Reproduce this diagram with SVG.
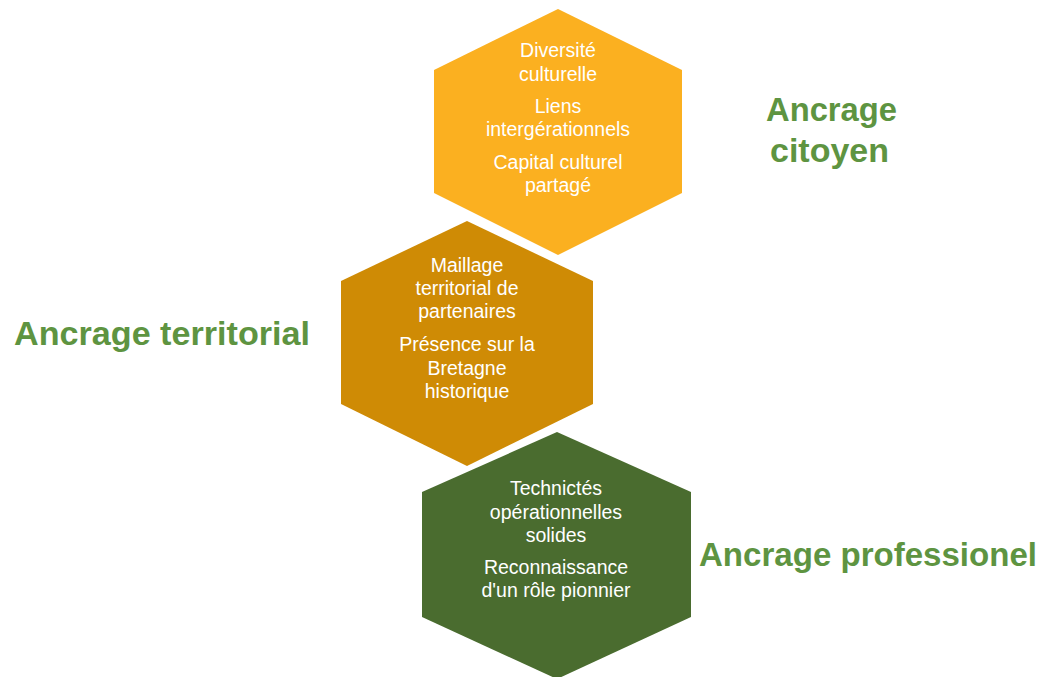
<svg xmlns="http://www.w3.org/2000/svg" width="1046" height="677" viewBox="0 0 1046 677">
<style>
.t{font-family:"Liberation Sans",Arial,sans-serif;font-size:19.5px;fill:#ffffff;text-anchor:middle}
.h{font-family:"Liberation Sans",Arial,sans-serif;font-size:33px;font-weight:bold;fill:#5E9441}
</style>
<rect width="1046" height="677" fill="#ffffff"/>
<g id="hex-citoyen">
<polygon points="558,9 682,70 682,193 558,255 434,193 434,70" fill="#FBB020"/>
<text class="t" x="558" y="57">Diversité</text>
<text class="t" x="558" y="81">culturelle</text>
<text class="t" x="558" y="113">Liens</text>
<text class="t" x="558" y="136">intergérationnels</text>
<text class="t" x="558" y="169">Capital culturel</text>
<text class="t" x="558" y="192">partagé</text>
</g>
<g id="hex-territorial">
<polygon points="467,221 593,281 593,404 467,466 341,404 341,281" fill="#CF8B05"/>
<text class="t" x="467" y="272">Maillage</text>
<text class="t" x="467" y="295">territorial de</text>
<text class="t" x="467" y="318">partenaires</text>
<text class="t" x="467" y="351">Présence sur la</text>
<text class="t" x="467" y="375">Bretagne</text>
<text class="t" x="467" y="398">historique</text>
</g>
<g id="hex-professionel">
<polygon points="557,432 691,492 691,617 557,679 422,617 422,492" fill="#4A6C2F"/>
<text class="t" x="556" y="495">Technictés</text>
<text class="t" x="556" y="519">opérationnelles</text>
<text class="t" x="556" y="542">solides</text>
<text class="t" x="556" y="574">Reconnaissance</text>
<text class="t" x="556" y="597">d'un rôle pionnier</text>
</g>
<g id="labels">
<text class="h" x="766" y="121" textLength="131" lengthAdjust="spacingAndGlyphs">Ancrage</text>
<text class="h" x="770" y="162" textLength="119" lengthAdjust="spacingAndGlyphs">citoyen</text>
<text class="h" x="14" y="345" textLength="296" lengthAdjust="spacingAndGlyphs">Ancrage territorial</text>
<text class="h" x="699" y="566" textLength="338" lengthAdjust="spacingAndGlyphs">Ancrage professionel</text>
</g>
<g id="connectors"></g>
</svg>
